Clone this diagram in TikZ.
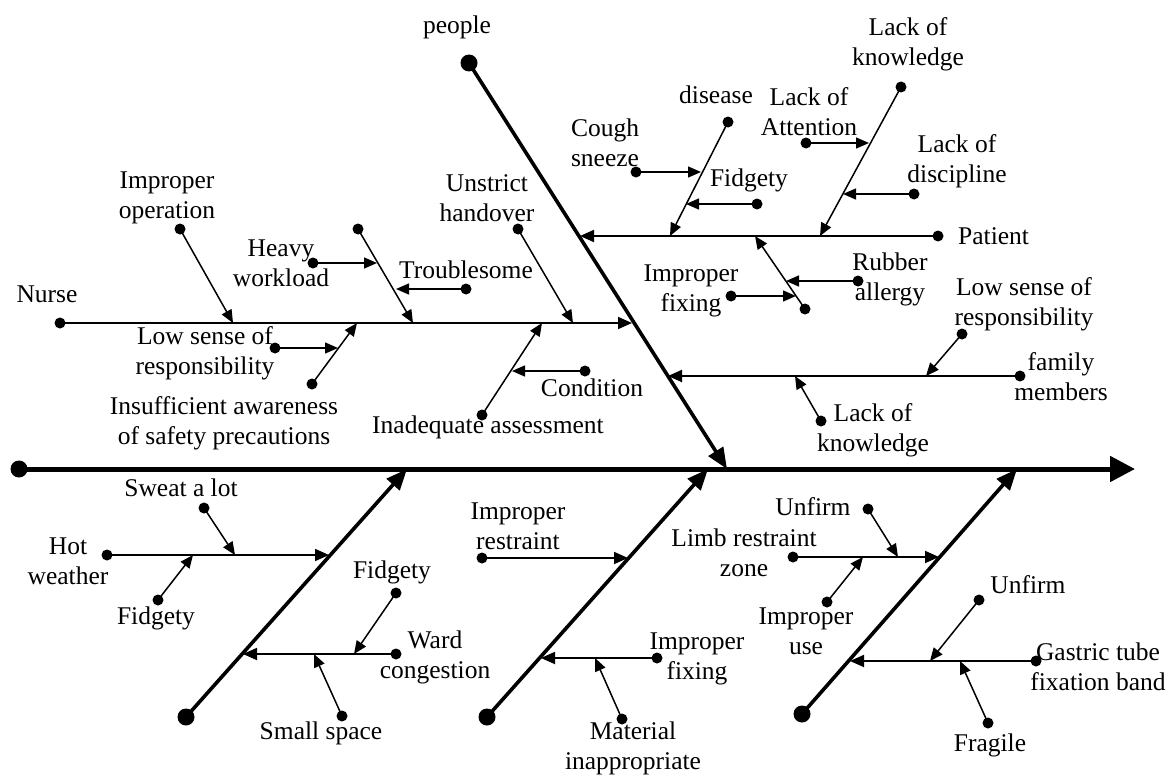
\documentclass[tikz,border=0pt]{standalone}
\usepackage{fontspec}
\setmainfont{Liberation Serif}
\usetikzlibrary{arrows.meta}
\begin{document}
\begin{tikzpicture}[x=1pt,y=-1pt,
  spine/.style={line width=5pt,-{Triangle[length=25pt,width=25pt]}},
  bone/.style={line width=3.6pt,-{Triangle[length=21pt,width=17pt]}},
  sub/.style={line width=1.8pt,-{Triangle[length=14pt,width=12pt]}},
  twig/.style={line width=1.5pt,-{Triangle[length=13pt,width=11pt]}},
  bigdot/.style={circle,fill=black,minimum size=17pt,inner sep=0pt},
  dot/.style={circle,fill=black,minimum size=11pt,inner sep=0pt},
  lbl/.style={align=center,inner sep=0pt,font=\fontsize{25.5}{30}\selectfont}]
\useasboundingbox (0,0) rectangle (1168,776);

% ---------- spine ----------
\node[bigdot] (sd) at (19,469) {};
\coordinate (se) at (1135,469);
\draw[spine] (sd.center) -- (se);

% ---------- people bone ----------
\node[bigdot] (pd) at (469,63) {};
\coordinate (pt) at (727,469);
\draw[bone] (pd.center) -- (pt);
\node[lbl] (lpeople) at (457,27) {people};

% Nurse
\node[dot] (nd) at (60,323) {};
\coordinate (nt) at (632,323);
\draw[sub] (nd.center) -- (nt);
\node[lbl] (lnurse) at (47,294) {Nurse};

\node[dot] (n1d) at (180,229) {};
\coordinate (n1t) at (233,323);
\draw[twig] (n1d.center) -- (n1t);
\node[lbl] (ln1) at (167,198) {Improper\\operation};

\node[dot] (n2d) at (358,229) {};
\coordinate (n2t) at (413,323);
\draw[twig] (n2d.center) -- (n2t);
\node[dot] (n2ad) at (313,263) {};
\coordinate (n2at) at (377,263);
\draw[twig] (n2ad.center) -- (n2at);
\node[lbl] (ln2a) at (281,263) {Heavy\\workload};
\node[dot] (n2bd) at (466,289) {};
\coordinate (n2bt) at (396,289);
\draw[twig] (n2bd.center) -- (n2bt);
\node[lbl] (ln2b) at (466,270) {Troublesome};

\node[dot] (n3d) at (518,229) {};
\coordinate (n3t) at (573,323);
\draw[twig] (n3d.center) -- (n3t);
\node[lbl] (ln3) at (487,198) {Unstrict\\handover};

\node[dot] (n4d) at (312,384) {};
\coordinate (n4t) at (357,323);
\draw[twig] (n4d.center) -- (n4t);
\node[dot] (n4ad) at (275,348) {};
\coordinate (n4at) at (338,348);
\draw[twig] (n4ad.center) -- (n4at);
\node[lbl] (ln4a) at (205,353) {Low sense of\\responsibility};
\node[lbl] (ln4) at (224,423) {Insufficient awareness\\of safety precautions};

\node[dot] (n5d) at (482,415) {};
\coordinate (n5t) at (542,323);
\draw[twig] (n5d.center) -- (n5t);
\node[dot] (n5ad) at (585,371) {};
\coordinate (n5at) at (512,371);
\draw[twig] (n5ad.center) -- (n5at);
\node[lbl] (ln5a) at (592,388) {Condition};
\node[lbl] (ln5) at (488,427) {Inadequate assessment};

% Patient
\node[dot] (pad) at (938,236) {};
\coordinate (pat) at (580,236);
\draw[sub] (pad.center) -- (pat);
\node[lbl,anchor=west] (lpat) at (958,236) {Patient};

\node[dot] (p1d) at (728,122) {};
\coordinate (p1t) at (670,236);
\draw[twig] (p1d.center) -- (p1t);
\node[lbl] (lp1) at (716,95) {disease};
\node[dot] (p1ad) at (636,172) {};
\coordinate (p1at) at (701,172);
\draw[twig] (p1ad.center) -- (p1at);
\node[lbl] (lp1a) at (605,143) {Cough\\sneeze};
\node[dot] (p1bd) at (757,204) {};
\coordinate (p1bt) at (686,204);
\draw[twig] (p1bd.center) -- (p1bt);
\node[lbl] (lp1b) at (749,180) {Fidgety};

\node[dot] (p2d) at (901,87) {};
\coordinate (p2t) at (820,236);
\draw[twig] (p2d.center) -- (p2t);
\node[lbl] (lp2) at (908,44) {Lack of\\knowledge};
\node[dot] (p2ad) at (806,143) {};
\coordinate (p2at) at (869,143);
\draw[twig] (p2ad.center) -- (p2at);
\node[lbl] (lp2a) at (809,112) {Lack of\\Attention};
\node[dot] (p2bd) at (914,194) {};
\coordinate (p2bt) at (843,194);
\draw[twig] (p2bd.center) -- (p2bt);
\node[lbl] (lp2b) at (957,161) {Lack of\\discipline};

\node[dot] (p3d) at (805,309) {};
\coordinate (p3t) at (755,236);
\draw[twig] (p3d.center) -- (p3t);
\node[dot] (p3ad) at (731,296) {};
\coordinate (p3at) at (796,296);
\draw[twig] (p3ad.center) -- (p3at);
\node[lbl] (lp3a) at (691,291) {Improper\\fixing};
\node[dot] (p3bd) at (858,281) {};
\coordinate (p3bt) at (786,281);
\draw[twig] (p3bd.center) -- (p3bt);
\node[lbl] (lp3b) at (890,279) {Rubber\\allergy};

% family members
\node[dot] (fd) at (1020,376) {};
\coordinate (ft) at (668,376);
\draw[sub] (fd.center) -- (ft);
\node[lbl] (lfam) at (1061,377) {family\\members};
\node[dot] (f1d) at (962,334) {};
\coordinate (f1t) at (926,376);
\draw[twig] (f1d.center) -- (f1t);
\node[lbl] (lf1) at (1024,304) {Low sense of\\responsibility};
\node[dot] (f2d) at (821,421) {};
\coordinate (f2t) at (795,376);
\draw[twig] (f2d.center) -- (f2t);
\node[lbl] (lf2) at (873,430) {Lack of\\knowledge};

% ---------- bottom bone 1 ----------
\node[bigdot] (b1d) at (186,717) {};
\coordinate (b1t) at (407,469);
\draw[bone] (b1d.center) -- (b1t);

\node[dot] (hd) at (107,555) {};
\coordinate (ht) at (329,555);
\draw[sub] (hd.center) -- (ht);
\node[lbl] (lhot) at (68,561) {Hot\\weather};
\node[dot] (h1d) at (204,508) {};
\coordinate (h1t) at (235,555);
\draw[twig] (h1d.center) -- (h1t);
\node[lbl] (lh1) at (181,488) {Sweat a lot};
\node[dot] (h2d) at (158,600) {};
\coordinate (h2t) at (193,555);
\draw[twig] (h2d.center) -- (h2t);
\node[lbl] (lh2) at (156,618) {Fidgety};

\node[dot] (wd) at (396,654) {};
\coordinate (wt) at (243,654);
\draw[sub] (wd.center) -- (wt);
\node[lbl] (lward) at (435,657) {Ward\\congestion};
\node[dot] (w1d) at (396,593) {};
\coordinate (w1t) at (354,654);
\draw[twig] (w1d.center) -- (w1t);
\node[lbl] (lw1) at (392,572) {Fidgety};
\node[dot] (w2d) at (342,716) {};
\coordinate (w2t) at (314,654);
\draw[twig] (w2d.center) -- (w2t);
\node[lbl] (lw2) at (321,733) {Small space};

% ---------- bottom bone 2 ----------
\node[bigdot] (b2d) at (487,717) {};
\coordinate (b2t) at (708,469);
\draw[bone] (b2d.center) -- (b2t);

\node[dot] (rd) at (482,558) {};
\coordinate (rt) at (628,558);
\draw[sub] (rd.center) -- (rt);
\node[lbl] (lres) at (518,526) {Improper\\restraint};

\node[dot] (xd) at (657,658) {};
\coordinate (xt) at (541,658);
\draw[sub] (xd.center) -- (xt);
\node[lbl] (lfix) at (697,659) {Improper\\fixing};
\node[dot] (x1d) at (622,719) {};
\coordinate (x1t) at (595,658);
\draw[twig] (x1d.center) -- (x1t);
\node[lbl] (lx1) at (633,748) {Material\\inappropriate};

% ---------- bottom bone 3 ----------
\node[bigdot] (b3d) at (802,714) {};
\coordinate (b3t) at (1017,469);
\draw[bone] (b3d.center) -- (b3t);

\node[dot] (ld) at (793,557) {};
\coordinate (lt) at (939,557);
\draw[sub] (ld.center) -- (lt);
\node[lbl] (llimb) at (744,553) {Limb restraint\\zone};
\node[dot] (l1d) at (868,509) {};
\coordinate (l1t) at (898,557);
\draw[twig] (l1d.center) -- (l1t);
\node[lbl] (ll1) at (813,507) {Unfirm};
\node[dot] (l2d) at (827,602) {};
\coordinate (l2t) at (863,557);
\draw[twig] (l2d.center) -- (l2t);
\node[lbl] (ll2) at (806,631) {Improper\\use};

\node[dot] (gd) at (1036,661) {};
\coordinate (gt) at (850,661);
\draw[sub] (gd.center) -- (gt);
\node[lbl] (lgas) at (1098,667) {Gastric tube\\fixation band};
\node[dot] (g1d) at (979,600) {};
\coordinate (g1t) at (930,661);
\draw[twig] (g1d.center) -- (g1t);
\node[lbl] (lg1) at (1028,585) {Unfirm};
\node[dot] (g2d) at (988,723) {};
\coordinate (g2t) at (960,661);
\draw[twig] (g2d.center) -- (g2t);
\node[lbl] (lg2) at (990,745) {Fragile};
\end{tikzpicture}
\end{document}
